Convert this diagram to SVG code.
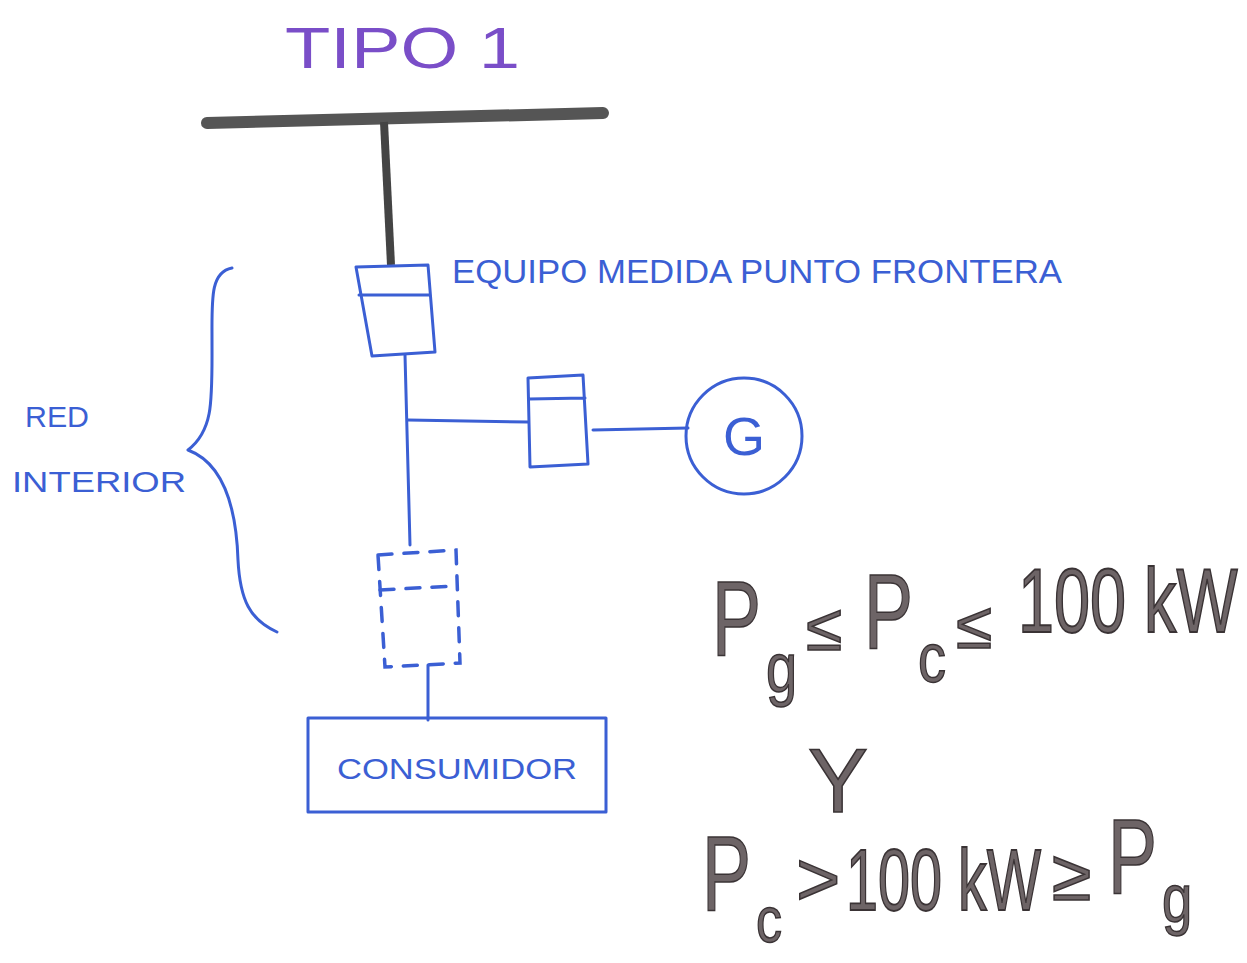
<svg xmlns="http://www.w3.org/2000/svg" width="1247" height="963" viewBox="0 0 1247 963">
<style>
.blue{fill:none;stroke:#3b5fd4;stroke-width:3;stroke-linecap:round;stroke-linejoin:round}
.dash{fill:none;stroke:#3b5fd4;stroke-width:3.5;stroke-dasharray:14 12;stroke-linecap:round}
.lbl{font-family:"Liberation Sans",Arial,sans-serif;fill:#3b5fd4}
.f{font-family:"Liberation Sans",Arial,sans-serif;fill:#6d6466;stroke:#3a3335;stroke-width:1.5}
</style>
<rect width="1247" height="963" fill="#ffffff"/>
<g id="title"><text x="285" y="68" class="lbl" style="fill:#7a4ec8" font-size="58" textLength="235" lengthAdjust="spacingAndGlyphs">TIPO 1</text></g>
<g id="bus"><path d="M207,123 L603,113" stroke="#555" stroke-width="12" fill="none" stroke-linecap="round"/></g>
<g id="connectors">
<path d="M384,122 L391,265" stroke="#444" stroke-width="8" fill="none"/>
<path class="blue" d="M405,355 L410,545"/>
<path class="blue" d="M408,420 L528,422"/>
<path class="blue" d="M593,430 L688,428"/>
<path class="blue" d="M428,665 L428,720"/>
</g>
<g id="meter1"><path class="blue" d="M356,267 L428,265 L435,352 L372,356 Z M359,295 L430,295"/></g>
<g id="label1"><text x="452" y="283" class="lbl" font-size="34" textLength="610" lengthAdjust="spacingAndGlyphs">EQUIPO MEDIDA PUNTO FRONTERA</text></g>
<g id="meter2"><path class="blue" d="M528,378 L583,375 L588,464 L530,467 Z M529,399 L585,398"/></g>
<g id="generator"><circle class="blue" cx="744" cy="436" r="58"/><text x="744" y="455" class="lbl" font-size="54" text-anchor="middle">G</text></g>
<g id="meter3"><path class="dash" d="M378,555 L456,550 L460,663 L385,667 Z"/><path class="dash" d="M380,590 L455,586"/></g>
<g id="consumidor"><rect class="blue" x="308" y="718" width="298" height="94"/><text x="457" y="779" class="lbl" font-size="30" text-anchor="middle" textLength="240" lengthAdjust="spacingAndGlyphs">CONSUMIDOR</text></g>
<g id="brace"><path class="blue" d="M232,268 C210,272 212,300 212,340 C212,400 214,430 188,450 C220,462 236,500 238,560 C240,600 250,620 277,632"/>
<text x="25" y="427" class="lbl" font-size="30" textLength="64" lengthAdjust="spacingAndGlyphs">RED</text>
<text x="12" y="492" class="lbl" font-size="30" textLength="174" lengthAdjust="spacingAndGlyphs">INTERIOR</text></g>
<g id="formula1">
<text class="f" font-size="105" transform="translate(712,655) scale(0.7,1)">P</text>
<text class="f" font-size="70" transform="translate(766,692) scale(0.8,1)">g</text>
<text class="f" font-size="66" transform="translate(806,650)">≤</text>
<text class="f" font-size="105" transform="translate(864,648) scale(0.7,1)">P</text>
<text class="f" font-size="70" transform="translate(918,682) scale(0.8,1)">c</text>
<text class="f" font-size="66" transform="translate(956,648)">≤</text>
<text class="f" font-size="72" transform="translate(1018,632) scale(0.9,1.25)">100 kW</text>
</g>
<g id="formula2">
<text x="808" y="812" class="f" font-size="90">Y</text>
<text class="f" font-size="105" transform="translate(702,910) scale(0.7,1)">P</text>
<text class="f" font-size="65" transform="translate(756,942) scale(0.8,1)">c</text>
<text class="f" font-size="76" transform="translate(796,905)">&gt;</text>
<text class="f" font-size="72" transform="translate(846,910) scale(0.8,1.2)">100 kW</text>
<text class="f" font-size="72" transform="translate(1052,900)">≥</text>
<text class="f" font-size="105" transform="translate(1108,893) scale(0.7,1)">P</text>
<text class="f" font-size="68" transform="translate(1162,922) scale(0.8,1)">g</text>
</g>
</svg>
